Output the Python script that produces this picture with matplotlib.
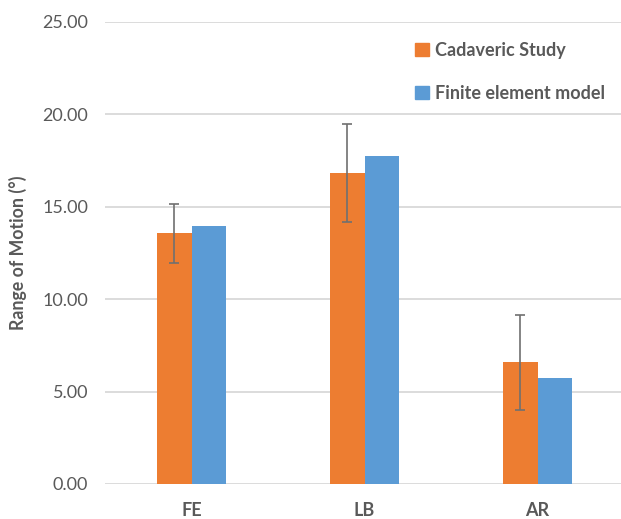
import matplotlib
matplotlib.use("Agg")
import matplotlib.pyplot as plt
import numpy as np
from matplotlib.patches import Patch

categories = ["FE", "LB", "AR"]
cadaveric = [13.57, 16.82, 6.58]
cadaveric_err = [1.6, 2.64, 2.56]
fem = [13.98, 17.77, 5.72]
yticks = [0, 5, 10, 15, 20, 25]

plt.rcParams['font.family'] = ['Lato', 'DejaVu Sans']
gray = '#595959'
orange = '#ED7D31'
blue = '#5B9BD5'

fig = plt.figure(figsize=(6.21, 5.19), dpi=100)
ax = fig.add_axes([105/621, 35/519, 519/621, 462/519])

x = np.arange(len(categories))
w = 0.197
ax.bar(x - w/2, cadaveric, w, color=orange, zorder=3, label="Cadaveric Study")
ax.bar(x + w/2, fem, w, color=blue, zorder=3, label="Finite element model")
ax.errorbar(x - w/2, cadaveric, yerr=cadaveric_err, fmt='none', ecolor='#707070',
            elinewidth=1.2, capsize=3.5, capthick=1.2, zorder=4)

ax.set_xlim(-0.5, 2.5)
ax.set_ylim(0, 25)
ax.set_yticks(yticks)
ax.set_yticklabels([f"{v:.2f}" for v in yticks])
ax.set_xticks(x)
ax.set_xticklabels(categories, fontweight='bold')
ax.grid(axis='y', color='#d9d9d9', linewidth=1.3, zorder=0)
for s in ax.spines.values():
    s.set_visible(False)
ax.tick_params(axis='y', length=0, pad=12, labelsize=13, labelcolor=gray)
ax.tick_params(axis='x', length=0, pad=13, labelsize=13, labelcolor=gray)
ax.set_ylabel("Range of Motion (°)", fontsize=12.8, fontweight='bold', color=gray, labelpad=11)

handles = [Patch(color=orange), Patch(color=blue)]
leg = fig.legend(handles, ["Cadaveric Study", "Finite element model"], loc='upper left',
                 bbox_to_anchor=(415/621, 1 - 42/519), frameon=False,
                 prop={'weight': 'bold', 'size': 13}, labelcolor=gray,
                 handlelength=0.75, handleheight=0.75, handletextpad=0.35,
                 labelspacing=1.45, borderaxespad=0, borderpad=0)

fig.savefig("out.png", dpi=100)
